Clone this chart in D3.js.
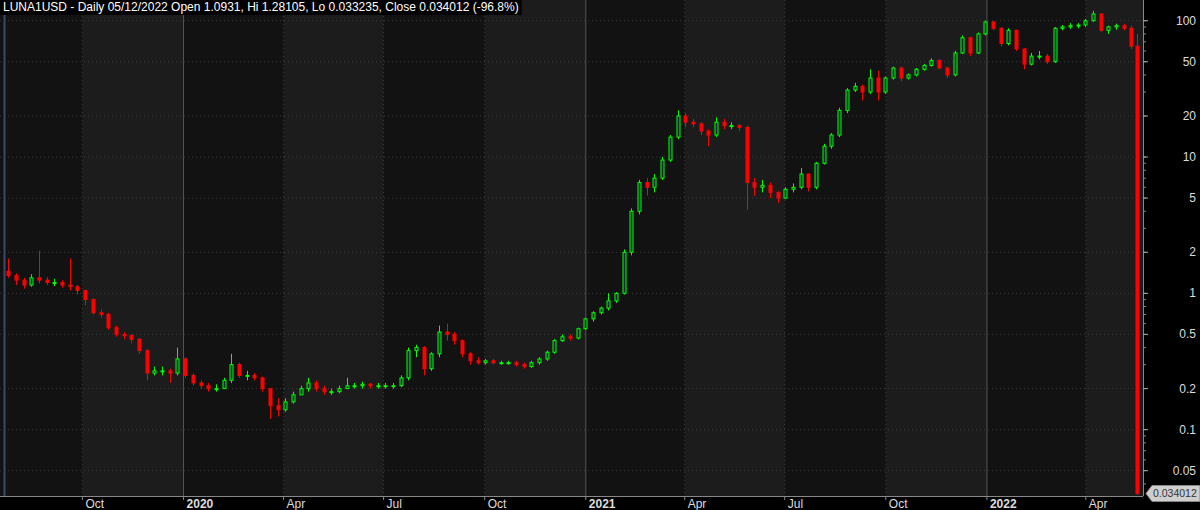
<!DOCTYPE html>
<html><head><meta charset="utf-8">
<script src="https://cdn.jsdelivr.net/npm/d3@7"></script>
<style>body{margin:0;background:#000}svg{display:block}</style>
</head><body><svg id="c" width="1200" height="510"></svg>
<script>
const firstWeek = "2019-07-22";
const firstOpen = 1.45;
const closes = [1.35,1.25,1.15,1.3,1.25,1.2,1.2,1.15,1.12,1.05,
0.9,0.72,0.7,0.56,0.5,0.49,0.46,0.38,0.26,0.27,
0.27,0.26,0.33,0.25,0.22,0.21,0.2,0.2,0.23,0.3,
0.25,0.25,0.24,0.2,0.15,0.14,0.16,0.18,0.2,0.22,
0.2,0.19,0.19,0.2,0.21,0.21,0.215,0.21,0.21,0.21,
0.21,0.24,0.38,0.4,0.28,0.36,0.52,0.5,0.45,0.36,
0.32,0.31,0.32,0.31,0.31,0.31,0.3,0.29,0.31,0.33,
0.37,0.45,0.48,0.47,0.55,0.65,0.72,0.78,0.88,1.0,
2.0,4.0,6.5,6.0,7.0,9.5,14,20,18,17.5,
15.5,14.5,18,17,17,16.5,6.5,6.0,6.2,5.5,
5.0,5.8,6.0,7.5,6.0,9,12,14.5,22,31,
33,30,38,30,38,45,38,40,44,47,
51,45,40,58,75,58,80,98,88,68,
85,62,48,55,55,50,88,90,92,93,
100,112,85,90,92,88,65,0.034012];
const highs = [1.8,1.4,1.3,1.38,2.05,1.32,1.28,1.25,1.8,1.15,
1.05,0.92,0.76,0.72,0.58,0.52,0.5,0.47,0.39,0.29,
0.29,0.28,0.4,0.34,0.26,0.23,0.22,0.215,0.24,0.36,
0.31,0.27,0.26,0.245,0.2,0.17,0.17,0.19,0.21,0.24,
0.23,0.21,0.2,0.21,0.24,0.22,0.225,0.22,0.22,0.22,
0.22,0.25,0.4,0.42,0.41,0.37,0.58,0.6,0.52,0.46,
0.37,0.34,0.33,0.33,0.32,0.32,0.32,0.31,0.32,0.34,
0.38,0.46,0.5,0.5,0.56,0.66,0.74,0.8,1.0,1.02,
2.1,4.2,6.8,7.0,7.5,10,14.5,22,21,19,
18,16,19.5,19,18,17.5,17,7.0,6.8,6.5,
5.6,6.0,6.4,8.3,7.6,9.2,12.5,15,23,32,
35,34,44,43,39,46,46,41,45,48,
53,52,46,60,78,76,82,100,99,90,
88,86,63,58,60,57,90,93,96,96,
103,118,113,92,95,95,92,80];
const lows = [1.3,1.15,1.08,1.12,1.18,1.15,1.13,1.1,1.05,0.98,
0.82,0.7,0.66,0.54,0.48,0.46,0.43,0.36,0.23,0.25,
0.25,0.22,0.25,0.24,0.21,0.2,0.19,0.19,0.2,0.22,
0.24,0.23,0.23,0.19,0.12,0.125,0.135,0.155,0.18,0.19,
0.19,0.18,0.18,0.185,0.2,0.2,0.2,0.2,0.2,0.2,
0.2,0.205,0.23,0.34,0.25,0.27,0.34,0.45,0.42,0.34,
0.3,0.3,0.3,0.3,0.3,0.3,0.29,0.28,0.285,0.3,
0.32,0.36,0.44,0.45,0.46,0.54,0.62,0.7,0.75,0.85,
0.98,1.9,3.8,5.2,5.5,6.8,9.2,13.5,16.5,16.5,
14.5,12,14,16,16,15.5,4.1,5.2,5.5,5.0,
4.6,4.9,5.5,5.8,5.6,5.8,8.8,11.5,14,21,
30,26,29,26,29,37,36,37,39,43,
46,44,38,39,57,55,57,78,85,65,
66,60,44,47,52,48,49,85,87,88,
90,98,83,80,86,85,62,0.033235];
const yTicks = [100,50,20,10,5,2,1,0.5,0.2,0.1,0.05];
const quarterStarts = ["2019-07-01","2019-10-01","2020-01-01","2020-04-01","2020-07-01","2020-10-01","2021-01-01","2021-04-01","2021-07-01","2021-10-01","2022-01-01","2022-04-01"];
const quarterLabels = ["","Oct","2020","Apr","Jul","Oct","2021","Apr","Jul","Oct","2022","Apr"];
const title = "LUNA1USD - Daily 05/12/2022 Open 1.0931, Hi 1.28105, Lo 0.033235, Close 0.034012 (-96.8%)";
const lastLabel = "0.034012";

const P = d3.timeParse("%Y-%m-%d");
const W = 1143, H = 496;
const svg = d3.select("#c");
const x = d3.scaleTime().domain([P("2019-07-18"), P("2022-05-23")]).range([0, W]);
const y = d3.scaleLog().domain([0.0326, 141.9]).range([H, 0]);

const data = closes.map((c, i) => {
  const start = d3.timeDay.offset(P(firstWeek), i * 7);
  const last = i === closes.length - 1;
  return {t: d3.timeHour.offset(start, last ? 36 : 84), o: i ? closes[i-1] : firstOpen, h: highs[i], l: lows[i], c};
});

svg.append("rect").attr("width", 1200).attr("height", 510).attr("fill", "#000");
svg.append("rect").attr("width", W).attr("height", H).attr("fill", "#121212");
const qd = quarterStarts.map(P);
qd.forEach((d, i) => {
  if (i % 2 === 1) {
    const x0 = Math.max(0, x(d)), x1 = i + 1 < qd.length ? x(qd[i+1]) : W;
    svg.append("rect").attr("x", x0).attr("y", 0).attr("width", x1 - x0).attr("height", H).attr("fill", "#1c1c1c");
  }
});
yTicks.forEach(v => {
  svg.append("line").attr("x1", 0).attr("x2", W).attr("y1", y(v)).attr("y2", y(v))
    .attr("stroke", "#3a3a3a").attr("stroke-dasharray", "1,3");
});
qd.forEach((d, i) => {
  if (x(d) < 0) return;
  const yr = d.getMonth() === 0;
  svg.append("line").attr("x1", x(d)).attr("x2", x(d)).attr("y1", 0).attr("y2", H)
    .attr("stroke", yr ? "#555" : "#3a3a3a").attr("stroke-dasharray", yr ? null : "1,3");
});
const cw = 3;
const g = svg.append("g");
data.forEach(d => {
  const up = d.c >= d.o, col = up ? "#00ff00" : "#ff0000", cx = Math.round(x(d.t)) + 0.5;
  g.append("line").attr("x1", cx).attr("x2", cx).attr("y1", y(d.h)).attr("y2", y(d.l)).attr("stroke", col);
  const top = y(Math.max(d.o, d.c)), bot = y(Math.min(d.o, d.c));
  g.append("rect").attr("x", cx - cw/2).attr("y", top).attr("width", cw).attr("height", Math.max(1, bot - top))
    .attr("fill", up ? "#0a2e2a" : col).attr("stroke", col).attr("stroke-width", 1);
});
svg.append("line").attr("x1", 4.5).attr("x2", 4.5).attr("y1", 0).attr("y2", H).attr("stroke", "#3b4a68").attr("stroke-width", 2);
svg.append("rect").attr("x", 0).attr("y", H).attr("width", 1200).attr("height", 510 - H).attr("fill", "#000");
svg.append("line").attr("x1", 0).attr("x2", W).attr("y1", H + 0.5).attr("y2", H + 0.5).attr("stroke", "#888");
qd.forEach((d, i) => {
  if (x(d) < 0) return;
  svg.append("line").attr("x1", x(d)).attr("x2", x(d)).attr("y1", H).attr("y2", H + 4).attr("stroke", "#888");
  svg.append("text").attr("x", x(d) + 3).attr("y", 508).text(quarterLabels[i])
    .attr("fill", "#ddd").attr("font-family", "Arial, Liberation Sans").attr("font-size", 12)
    .attr("font-weight", d.getMonth() === 0 ? "bold" : "normal");
});
svg.append("rect").attr("x", W).attr("y", 0).attr("width", 1200 - W).attr("height", 510).attr("fill", "#000");
svg.append("line").attr("x1", W + 0.5).attr("x2", W + 0.5).attr("y1", 0).attr("y2", H).attr("stroke", "#888");
const minor = [];
[0.01, 0.1, 1, 10, 100].forEach(b => [1,2,3,4,5,6,7,8,9].forEach(m => { const v = b*m; if (v > 0.033 && v < 140) minor.push(v); }));
minor.forEach(v => svg.append("line").attr("x1", W).attr("x2", W + 3).attr("y1", y(v)).attr("y2", y(v)).attr("stroke", "#888"));
yTicks.forEach(v => {
  svg.append("line").attr("x1", W).attr("x2", W + 5).attr("y1", y(v)).attr("y2", y(v)).attr("stroke", "#aaa");
  svg.append("text").attr("x", 1196).attr("y", y(v) + 4).attr("text-anchor", "end").text(v)
    .attr("fill", "#ddd").attr("font-family", "Arial, Liberation Sans").attr("font-size", 12);
});
const ly = y(closes[closes.length - 1]);
svg.append("path").attr("d", `M${W+3},${ly} L${W+9},${ly-8} L1200,${ly-8} L1200,${ly+8} L${W+9},${ly+8} Z`)
  .attr("fill", "#cfcfcf").attr("stroke", "#888");
svg.append("text").attr("x", W + 10).attr("y", ly + 4).text(lastLabel).attr("fill", "#333")
  .attr("font-family", "Arial, Liberation Sans").attr("font-size", 10.5);
const tt = svg.append("text").attr("x", 3).attr("y", 11).text(title).attr("fill", "#fff")
  .attr("font-family", "Arial, Liberation Sans").attr("font-size", 12);
const bb = tt.node().getBBox();
svg.insert("rect", "text").attr("x", 0).attr("y", 0).attr("width", bb.width + 6).attr("height", 15).attr("fill", "#000");
</script></body></html>
